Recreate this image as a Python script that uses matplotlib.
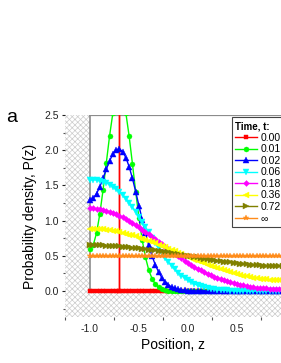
import matplotlib
matplotlib.use("Agg")
import matplotlib.pyplot as plt
from matplotlib.patches import Rectangle
from matplotlib.ticker import MultipleLocator, FixedLocator

plt.rcParams['font.family'] = ['Liberation Sans', 'DejaVu Sans']
plt.rcParams['hatch.linewidth'] = 0.5

# ---- data -------------------------------------------------------------
z = [-1.0, -0.9667, -0.9333, -0.9, -0.8667, -0.8333, -0.8, -0.7667, -0.7333, -0.7,
     -0.6667, -0.6333, -0.6, -0.5667, -0.5333, -0.5, -0.4667, -0.4333, -0.4, -0.3667,
     -0.3333, -0.3, -0.2667, -0.2333, -0.2, -0.1667, -0.1333, -0.1, -0.0667, -0.0333,
     0.0, 0.0333, 0.0667, 0.1, 0.1333, 0.1667, 0.2, 0.2333, 0.2667, 0.3,
     0.3333, 0.3667, 0.4, 0.4333, 0.4667, 0.5, 0.5333, 0.5667, 0.6, 0.6333,
     0.6667, 0.7, 0.7333, 0.7667, 0.8, 0.8333, 0.8667, 0.9, 0.9333, 0.9667, 1.0]

# t = 0: delta peak at the start position z0 = -0.7 (drawn as a vertical line)
z_000 = z[:9] + [-0.7, -0.7, -0.7] + z[10:]
p_000 = [0.0] * 10 + [100.0] + [0.0] * 52

p_001 = [0.5946, 0.6522, 0.8211, 1.0894, 1.4344, 1.8209, 2.2023, 2.5266, 2.7446, 2.8212,
         2.7437, 2.5243, 2.1969, 1.8087, 1.4086, 1.0378, 0.7232, 0.4768, 0.2973, 0.1754,
         0.0979, 0.0517, 0.0258, 0.0122, 0.0054, 0.0023, 0.0009, 0.0003, 0.0001] + [0.0] * 32

p_002 = [1.2952, 1.3174, 1.3816, 1.4798, 1.6003, 1.7283, 1.8480, 1.9439, 2.0032, 2.0169,
         1.9805, 1.8946, 1.7647, 1.5996, 1.4108, 1.2105, 1.0103, 0.8202, 0.6477, 0.4974,
         0.3716, 0.2700, 0.1907, 0.1311, 0.0876, 0.0570, 0.0360, 0.0222, 0.0133, 0.0077,
         0.0044, 0.0024, 0.0013, 0.0007, 0.0003, 0.0002, 0.0001] + [0.0] * 24

p_006 = [1.5831, 1.5813, 1.5757, 1.5662, 1.5525, 1.5343, 1.5111, 1.4826, 1.4486, 1.4087,
         1.3629, 1.3113, 1.2542, 1.1920, 1.1253, 1.0549, 0.9817, 0.9067, 0.8310, 0.7555,
         0.6812, 0.6092, 0.5401, 0.4748, 0.4139, 0.3575, 0.3061, 0.2598, 0.2186, 0.1822,
         0.1505, 0.1232, 0.1000, 0.0803, 0.0640, 0.0505, 0.0395, 0.0306, 0.0235, 0.0179,
         0.0135, 0.0101, 0.0074, 0.0055, 0.0040, 0.0029, 0.0020, 0.0014, 0.0010, 0.0007,
         0.0005, 0.0003, 0.0002, 0.0001, 0.0001] + [0.0] * 6

p_018 = [1.1739, 1.1725, 1.1684, 1.1617, 1.1522, 1.1402, 1.1258, 1.1088, 1.0896, 1.0681,
         1.0447, 1.0194, 0.9921, 0.9635, 0.9334, 0.9021, 0.8697, 0.8363, 0.8025, 0.7679,
         0.7331, 0.6982, 0.6631, 0.6283, 0.5938, 0.5597, 0.5262, 0.4935, 0.4615, 0.4305,
         0.4005, 0.3715, 0.3439, 0.3173, 0.2920, 0.2679, 0.2452, 0.2239, 0.2037, 0.1848,
         0.1673, 0.1511, 0.1361, 0.1223, 0.1095, 0.0979, 0.0874, 0.0779, 0.0693, 0.0616,
         0.0549, 0.0489, 0.0436, 0.0390, 0.0352, 0.0322, 0.0296, 0.0275, 0.0262, 0.0255,
         0.0251]

p_036 = [0.8834, 0.8828, 0.8810, 0.8781, 0.8739, 0.8686, 0.8623, 0.8548, 0.8461, 0.8365,
         0.8259, 0.8143, 0.8018, 0.7884, 0.7742, 0.7592, 0.7435, 0.7272, 0.7103, 0.6928,
         0.6749, 0.6565, 0.6379, 0.6189, 0.5997, 0.5804, 0.5609, 0.5413, 0.5219, 0.5025,
         0.4832, 0.4641, 0.4453, 0.4267, 0.4085, 0.3906, 0.3731, 0.3561, 0.3397, 0.3237,
         0.3083, 0.2936, 0.2793, 0.2658, 0.2529, 0.2408, 0.2294, 0.2186, 0.2086, 0.1993,
         0.1909, 0.1833, 0.1763, 0.1702, 0.1649, 0.1604, 0.1567, 0.1539, 0.1518, 0.1506,
         0.1502]

p_072 = [0.6508, 0.6506, 0.6500, 0.6489, 0.6475, 0.6457, 0.6434, 0.6408, 0.6378, 0.6344,
         0.6306, 0.6265, 0.6220, 0.6172, 0.6121, 0.6066, 0.6009, 0.5949, 0.5886, 0.5821,
         0.5754, 0.5685, 0.5613, 0.5540, 0.5466, 0.5390, 0.5314, 0.5236, 0.5158, 0.5079,
         0.5000, 0.4921, 0.4842, 0.4764, 0.4686, 0.4610, 0.4534, 0.4460, 0.4387, 0.4315,
         0.4246, 0.4179, 0.4114, 0.4051, 0.3991, 0.3934, 0.3879, 0.3828, 0.3780, 0.3735,
         0.3694, 0.3656, 0.3622, 0.3592, 0.3566, 0.3543, 0.3525, 0.3511, 0.3500, 0.3494,
         0.3492]

p_inf = [0.5] * 61

xs = [z_000, z, z, z, z, z, z, z]
series = [p_000, p_001, p_002, p_006, p_018, p_036, p_072, p_inf]
labels = ["0.00", "0.01", "0.02", "0.06", "0.18", "0.36", "0.72", "\u221e"]
colors = ["#ff0000", "#00ff00", "#0000ff", "#00ffff", "#ff00ff", "#ffff00", "#808000", "#ff8c1a"]
markers = ["s", "o", "^", "v", "D", "<", ">", "*"]
msizes = [3.0, 3.6, 3.8, 3.8, 3.0, 3.8, 3.8, 4.4]

x_ticks = [-1.0, -0.5, 0.0, 0.5]
x_minor = [-1.25, -0.75, -0.25, 0.25, 0.75]
y_ticks = [0.0, 0.5, 1.0, 1.5, 2.0, 2.5]

# ---- figure -----------------------------------------------------------
fig = plt.figure(figsize=(2.81, 3.63), dpi=100)
ax = fig.add_axes([65 / 281, 46 / 363, 216 / 281, 202 / 363])
xmin, xmax = -1.255, 0.95
ymin, ymax = -0.37, 2.5
ax.set_xlim(xmin, xmax)
ax.set_ylim(ymin, ymax)

# hatched background and white plotting box
ax.add_patch(Rectangle((0, 0), 1, 1, transform=ax.transAxes, facecolor="white",
                       edgecolor="#cccccc", hatch="xxxxxx", linewidth=0, zorder=0))
ax.add_patch(Rectangle((-1.0, 0.0), 3.0, 2.5, facecolor="white", edgecolor="none",
                       zorder=0.5))
ax.axvline(-1.0, ymin=(0 - ymin) / (ymax - ymin), ymax=1, color="#8c8c8c", lw=1.2, zorder=0.6)
ax.axhline(2.5, xmin=(-1.0 - xmin) / (xmax - xmin), xmax=1, color="#8c8c8c", lw=1.6, zorder=0.6)

handles = []
for xv, ys, lab, c, m, ms in zip(xs, series, labels, colors, markers, msizes):
    h, = ax.plot(xv, ys, color=c, marker=m, markersize=ms, markeredgewidth=0.3,
                 markeredgecolor=c, lw=1.0, label=lab)
    handles.append(h)

for s in ax.spines.values():
    s.set_visible(False)

ax.xaxis.set_major_locator(FixedLocator(x_ticks))
ax.xaxis.set_minor_locator(FixedLocator(x_minor))
ax.yaxis.set_major_locator(FixedLocator(y_ticks))
ax.yaxis.set_minor_locator(MultipleLocator(0.25))
ax.set_xticklabels(["-1.0", "-0.5", "0.0", "0.5"])
ax.set_yticklabels(["0.0", "0.5", "1.0", "1.5", "2.0", "2.5"])
ax.tick_params(axis="x", which="major", length=0, pad=5, labelsize=7.5, colors="#222222")
ax.tick_params(axis="x", which="minor", length=2.5, width=0.8, direction="out", color="#555555")
ax.tick_params(axis="y", which="major", length=2.5, width=0.8, pad=2, labelsize=7.5,
               colors="#222222")
ax.tick_params(axis="y", which="minor", length=1.5, width=0.8, color="#555555")

ax.set_xlabel("Position, z", fontsize=10, labelpad=3)
ax.set_ylabel("Probability density, P(z)", fontsize=10, labelpad=5)

leg = ax.legend(handles=handles, title="Time, t:", loc="upper left",
                bbox_to_anchor=(0.772, 0.988), fontsize=7.5, title_fontsize=7,
                frameon=True, fancybox=False, edgecolor="#444444", framealpha=1,
                handlelength=2.1, handletextpad=0.3, labelspacing=0.15,
                borderpad=0.35, borderaxespad=0, numpoints=1, alignment="left")
leg.get_frame().set_linewidth(0.8)
leg.get_title().set_fontweight("bold")
leg.set_zorder(5)

fig.text(12 / 281, 1 - 118 / 363, "a", fontsize=14, ha="center", va="center")

fig.savefig("out.png", dpi=100)
